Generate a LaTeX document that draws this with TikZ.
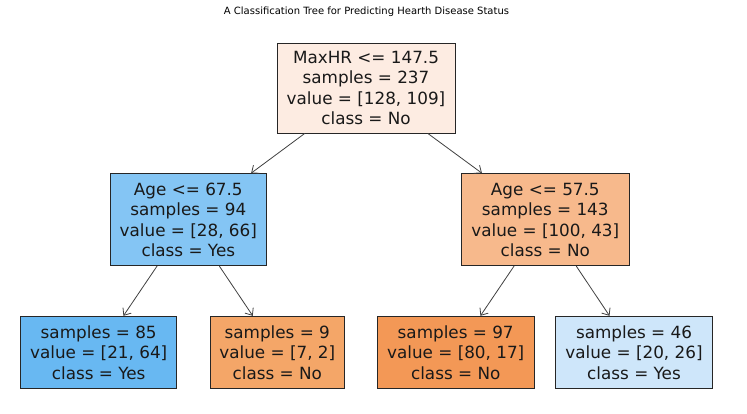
\documentclass[tikz,border=0pt]{standalone}
\usepackage{fontspec}
\setmainfont{DejaVu Sans}
\usetikzlibrary{arrows.meta}
\definecolor{cRoot}{RGB}{253,236,226}
\definecolor{cA}{RGB}{132,197,244}
\definecolor{cB}{RGB}{247,185,140}
\definecolor{cL85}{RGB}{104,184,242}
\definecolor{cL9}{RGB}{244,166,104}
\definecolor{cL97}{RGB}{243,152,86}
\definecolor{cL46}{RGB}{206,230,250}
\begin{document}
\begin{tikzpicture}[x=1pt,y=1pt,
  treebox/.style={draw=black!85, line width=0.9pt, align=center, inner sep=0pt,
    font=\fontsize{16.8}{20.5}\selectfont, text=black!90},
  edge/.style={draw=black!75, line width=0.8pt, -{Straight Barb[length=6pt,width=10pt]}, shorten >=0.5pt}]
\useasboundingbox (0,0) rectangle (747,414);
\node[font=\fontsize{10}{12}\selectfont] (title) at (366.5,402) {A Classification Tree for Predicting Hearth Disease Status};
\node[treebox, fill=cRoot, minimum width=178pt, minimum height=90pt] (root) at (366,326)
  {MaxHR <= 147.5\\samples = 237\\value = [128, 109]\\class = No};
\node[treebox, fill=cA, minimum width=156.7pt, minimum height=91.7pt] (a67) at (188.3,194.2)
  {Age <= 67.5\\samples = 94\\value = [28, 66]\\class = Yes};
\node[treebox, fill=cB, minimum width=167.3pt, minimum height=91.7pt] (a57) at (545.3,194.2)
  {Age <= 57.5\\samples = 143\\value = [100, 43]\\class = No};
\node[treebox, fill=cL85, minimum width=156pt, minimum height=71.6pt] (l85) at (98.7,61.5)
  {samples = 85\\value = [21, 64]\\class = Yes};
\node[treebox, fill=cL9, minimum width=133.3pt, minimum height=71.6pt] (l9) at (277.3,61.5)
  {samples = 9\\value = [7, 2]\\class = No};
\node[treebox, fill=cL97, minimum width=156.7pt, minimum height=71.6pt] (l97) at (455.7,61.5)
  {samples = 97\\value = [80, 17]\\class = No};
\node[treebox, fill=cL46, minimum width=156.7pt, minimum height=71.6pt] (l46) at (634,61.5)
  {samples = 46\\value = [20, 26]\\class = Yes};
\draw[edge] (root) -- (a67);
\draw[edge] (root) -- (a57);
\draw[edge] (a67) -- (l85);
\draw[edge] (a67) -- (l9);
\draw[edge] (a57) -- (l97);
\draw[edge] (a57) -- (l46);
\end{tikzpicture}
\end{document}
